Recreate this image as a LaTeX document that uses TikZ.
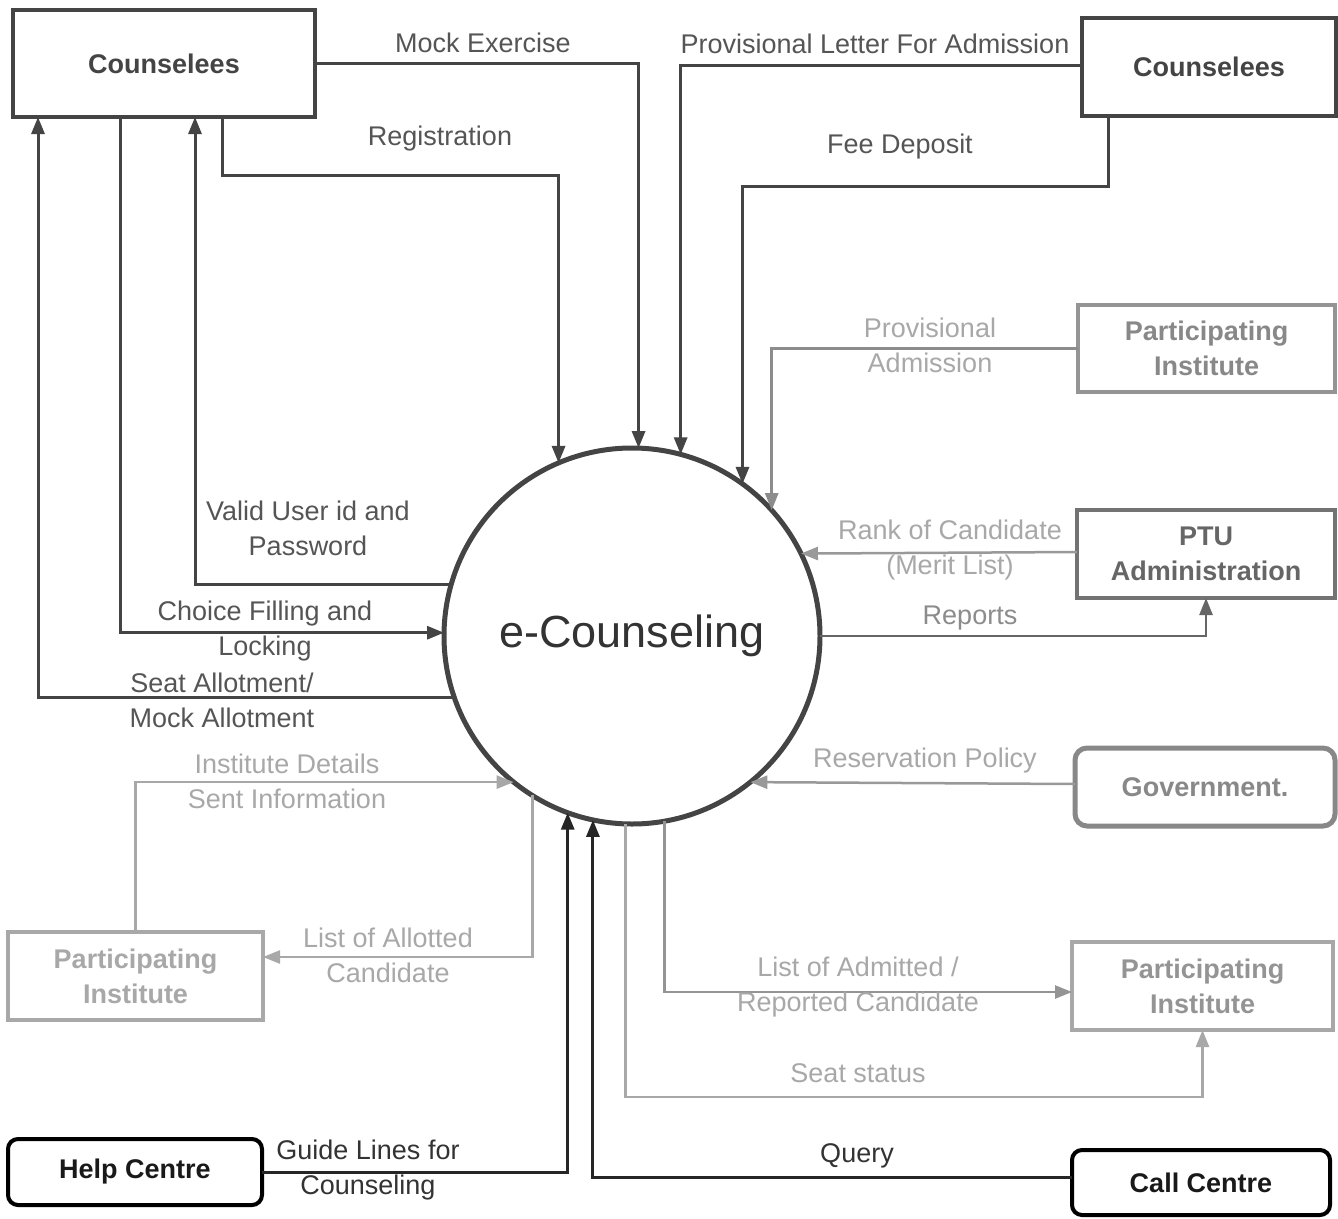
\documentclass[tikz,border=0pt]{standalone}
\usepackage{fontspec}
\setmainfont{Liberation Sans}
\usetikzlibrary{arrows.meta,calc}
\definecolor{dk}{HTML}{444444}
\definecolor{lbl}{HTML}{555555}
\definecolor{gmid}{HTML}{888888}
\definecolor{glt}{HTML}{A8A8A8}
\begin{document}
\begin{tikzpicture}[x=1pt,y=-1pt,
  every node/.style={font=\fontsize{27}{35}\selectfont, inner sep=0pt, outer sep=0pt},
  box/.style={draw, rectangle, align=center, font=\fontsize{27}{35}\selectfont\bfseries},
  darkbox/.style={box, draw=dk, text=dk, line width=4pt},
  graybox/.style={box, draw=gmid, text=gmid, line width=3.5pt},
  ltbox/.style={box, draw=glt, text=glt, line width=3.5pt},
  blackbox/.style={box, draw=black, text=black!90, line width=4pt, rounded corners=10pt},
  arr/.style={-{Triangle[length=17pt,width=13pt]}},
  dline/.style={draw=dk, line width=3pt, arr},
  bline/.style={draw=black!85, line width=3pt, arr},
  gline/.style={draw=gmid, line width=2.5pt, arr},
  lline/.style={draw=glt, line width=2.5pt, arr},
  lab/.style={align=center, text=lbl},
  glab/.style={align=center, text=glt},
]
\useasboundingbox (0,0) rectangle (1338,1218);
\fill[white] (0,0) rectangle (1338,1218);

% nodes
\node[circle, draw=dk, line width=5pt, minimum size=376pt, text=black!80,
      font=\fontsize{45}{50}\selectfont] (ec) at (632,636) {e-Counseling};
\node[darkbox, minimum width=302pt, minimum height=107pt] (c1) at (164,63.5) {Counselees};
\node[darkbox, minimum width=254pt, minimum height=98pt] (c2) at (1209,67) {Counselees};
\node[graybox, draw=gmid!90, minimum width=257pt, minimum height=87pt] (pi1) at (1206.5,348.5) {Participating\\Institute};
\node[graybox, draw=black!55, text=black!60, minimum width=258pt, minimum height=88pt] (ptu) at (1206,554) {PTU\\Administration};
\node[graybox, rounded corners=12pt, line width=5pt, minimum width=260pt, minimum height=78pt] (gov) at (1205,787) {Government.};
\node[ltbox, minimum width=255pt, minimum height=88pt] (pil) at (135.5,976) {Participating\\Institute};
\node[graybox, draw=glt, text=gmid!90, minimum width=261pt, minimum height=88pt] (pir) at (1202.5,986) {Participating\\Institute};
\node[blackbox, minimum width=254pt, minimum height=66pt] (hc) at (135,1172) {Help Centre};
\node[blackbox, minimum width=258pt, minimum height=65pt] (cc) at (1201,1182.5) {Call Centre};

% connectors: Counselees (left)
\draw[dline] (c1.east) -| (ec.88);
\draw[dline] ([xshift=58pt]c1.south) -- ++(0,58) -| (ec.113.6);
\draw[dline] (ec.164.4) -| ([xshift=31pt]c1.south);
\draw[dline] ([xshift=-44pt]c1.south) |- (ec.179);
\draw[dline] (ec.199) -| ([xshift=-126pt]c1.south);
% Counselees (right)
\draw[dline] ([yshift=2pt]c2.west) -| (ec.75.4);
\draw[dline] ([xshift=-101pt]c2.south) -- ++(0,70) -| (ec.54.3);
% right side
\draw[gline, draw=black!45] (pi1.west) -| (ec.42.5);
\draw[gline, draw=black!40] ([yshift=2pt]ptu.west) -- (ec.26.2);
\draw[gline, draw=black!60] (ec.0) -| (ptu.south);
\draw[gline, draw=black!40] ([yshift=3pt]gov.west) -- (ec.-51.6);
% bottom
\draw[lline] (pil.north) |- (ec.231.7);
\draw[lline] (ec.238.6) |- ([yshift=19pt]pil.east);
\draw[bline] (hc.east) -| (ec.250.3);
\draw[bline] ([yshift=5pt]cc.west) -| (ec.258.2);
\draw[gline, draw=black!42] (ec.280.6) |- ([yshift=-6pt]pir.west);
\draw[lline] (ec.268.8) |- ([yshift=-67pt]pir.south) -- (pir.south);

% labels
\node[lab] (l1) at (483,43) {Mock Exercise};
\node[lab] (l2) at (440,139) {Registration};
\node[lab] (l3) at (875,44) {Provisional Letter For Admission};
\node[lab] (l4) at (900,147) {Fee Deposit};
\node[glab] (l5) at (930,345) {Provisional\\Admission};
\node[glab] (l6) at (950,550) {Rank of Candidate\\(Merit List)};
\node[lab, text=black!45] (l7) at (970,618) {Reports};
\node[glab] (l8) at (925,761) {Reservation Policy};
\node[lab] (l9) at (308,528) {Valid User id and\\Password};
\node[lab] (l10) at (265,631) {Choice Filling and\\Locking};
\node[lab] (l11) at (222,700) {Seat Allotment/\\Mock Allotment};
\node[glab] (l12) at (287,781) {Institute Details\\Sent Information};
\node[glab] (l13) at (388,955) {List of Allotted\\Candidate};
\node[glab] (l14) at (858,987) {List of Admitted /\\Reported Candidate};
\node[glab] (l15) at (858,1073) {Seat status};
\node[lab, text=black!80] (l16) at (368,1170) {Guide Lines for\\Counseling};
\node[lab, text=black!80] (l17) at (857,1156) {Query};
\end{tikzpicture}
\end{document}
